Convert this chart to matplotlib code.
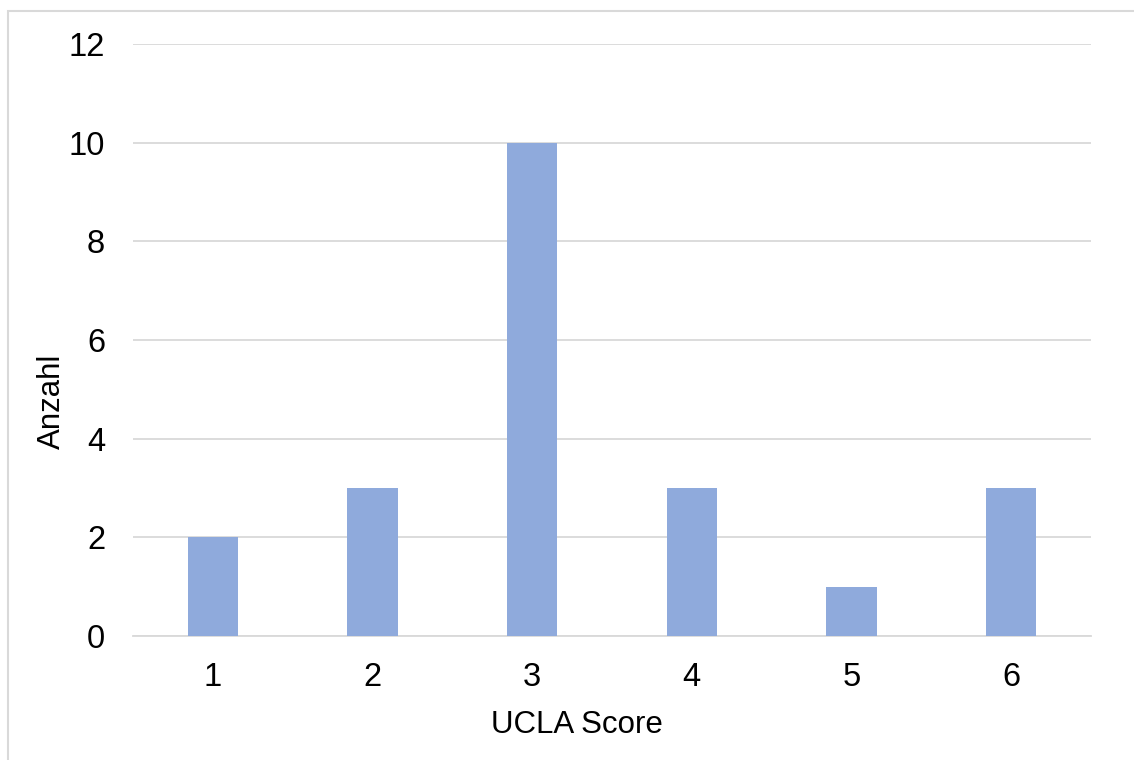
import matplotlib.pyplot as plt
from matplotlib.patches import Rectangle

# UCLA score distribution
scores = ['1', '2', '3', '4', '5', '6']
counts = [2, 3, 10, 3, 1, 3]

plt.rcParams['font.family'] = ['Liberation Sans', 'DejaVu Sans']

fig = plt.figure(figsize=(11.34, 7.6), dpi=100)
ax = fig.add_axes([0.1173, 0.1632, 0.8447, 0.7788])

# light frame round the chart (only top and left edges show)
fig.patches.append(Rectangle((7.5 / 1134, -0.1), 1.2, 1 - 11 / 760 + 0.1,
                             transform=fig.transFigure, fill=False,
                             edgecolor='#d9d9d9', linewidth=1.5))

x = range(len(scores))
ax.bar(x, counts, width=0.315, color='#8faadc', zorder=3)

ax.set_xlim(-0.5, len(scores) - 0.5)
ax.set_ylim(0, 12)
ax.set_yticks(range(0, 13, 2))
ax.set_xticks(list(x))
ax.set_xticklabels(scores)

ax.yaxis.grid(True, color='#d9d9d9', linewidth=1.3, zorder=0)
ax.set_axisbelow(True)
for s in ['top', 'right', 'left']:
    ax.spines[s].set_visible(False)
ax.spines['bottom'].set_color('#d9d9d9')
ax.spines['bottom'].set_linewidth(1.3)
ax.tick_params(axis='both', length=0, labelsize=23.5, colors='black')
ax.tick_params(axis='y', pad=20)
ax.tick_params(axis='x', pad=19)

ax.set_xlabel('UCLA Score', fontsize=22.5, va='center')
ax.set_ylabel('Anzahl', fontsize=22.5, va='center')
ax.xaxis.set_label_coords(0.4635, -0.151)
ax.yaxis.set_label_coords(-0.0846, 0.397)

fig.savefig('out.png', dpi=100)
